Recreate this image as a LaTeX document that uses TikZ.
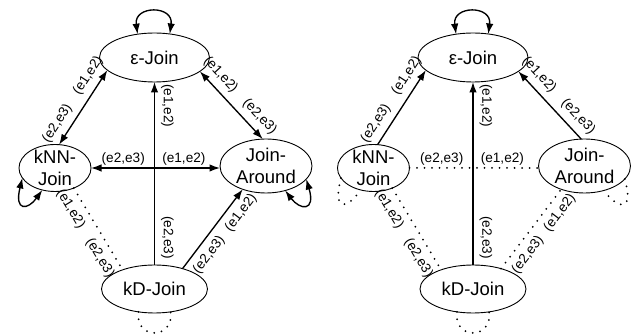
\documentclass[tikz,border=0pt]{standalone}
\usepackage{fontspec}
\setmainfont{Liberation Sans}
\usetikzlibrary{arrows.meta,shapes.geometric}
\begin{document}
\begin{tikzpicture}[x=1pt,y=-1pt,
  st/.style={draw, ellipse, inner sep=0pt, outer sep=0pt, line width=0.9pt},
  nt/.style={font=\fontsize{18.5}{21.5}\selectfont, align=center, inner sep=0pt},
  lbl/.style={font=\fontsize{13.6}{13.6}\selectfont, inner sep=6pt},
  hl/.style={font=\fontsize{13.6}{13.6}\selectfont, inner sep=1.8pt},
  arr/.style={line width=1.35pt},
  tipe/.style={-{Latex[length=10.5pt,width=7.5pt]}},
  tips/.style={{Latex[length=10.5pt,width=7.5pt]}-{Latex[length=10.5pt,width=7.5pt]}},
  tipb/.style={{Latex[length=10.5pt,width=7.5pt]}-},
  dots/.style={line width=2pt, line cap=round, dash pattern=on 0pt off 7.5pt},
]
\useasboundingbox (0,0) rectangle (638,336);

% ---------------- left panel ----------------
\node[st, minimum width=110pt, minimum height=49pt, label={[nt]center:ε-Join}] (eL) at (154.5,57.5) {};
\node[st, minimum width=72pt, minimum height=47pt, label={[nt]center:kNN-\\Join}] (kL) at (55,168) {};
\node[st, minimum width=92pt, minimum height=54pt, label={[nt]center:Join-\\Around}] (jL) at (266,166) {};
\node[st, minimum width=106pt, minimum height=48pt, label={[nt]center:kD-Join}] (dL) at (154.5,289) {};

\draw[arr, tips] (kL.80) -- (eL.195)
  node[lbl, sloped, above, pos=.19] {(e2,e3)}
  node[lbl, sloped, above, pos=.83] {(e1,e2)};
\draw[arr, tips] (eL.-17) -- (jL.97)
  node[lbl, sloped, above, pos=.18] {(e1,e2)}
  node[lbl, sloped, above, pos=.8] {(e2,e3)};
\draw[arr, tipe] (dL.north) -- (eL.south)
  node[lbl, rotate=-90, anchor=south, pos=.87] {(e1,e2)}
  node[lbl, rotate=-90, anchor=south, pos=.15] {(e2,e3)};
\draw[arr, tips] (kL.east) -- (kL.east -| jL.west)
  node[hl, above, pos=.25] {(e2,e3)}
  node[hl, above, pos=.72] {(e1,e2)};
\draw[arr, tipe] (dL.36) -- (jL.225)
  node[lbl, sloped, below, pos=.27] {(e2,e3)}
  node[lbl, sloped, below, pos=.8] {(e1,e2)};
\draw[dots] (kL.-47) -- (dL.149)
  node[lbl, sloped, below, pos=.17] {(e1,e2)}
  node[lbl, sloped, below, pos=.77] {(e2,e3)};

\draw[arr, tips] (eL.126) .. controls +(-4,-29) and +(4,-29) .. (eL.57);
\draw[arr, tips] (kL.197) .. controls +(-8.4,34) and +(-14.3,20) .. (kL.240);
\draw[arr, tips] (jL.-18) .. controls +(9.7,33) and +(14.8,19.5) .. (jL.-52);
\draw[dots] (dL.235) .. controls +(-4,28) and +(4,28) .. (dL.305);

% ---------------- right panel ----------------
\node[st, minimum width=110pt, minimum height=49pt, label={[nt]center:ε-Join}] (eR) at (473,57.5) {};
\node[st, minimum width=72pt, minimum height=47pt, label={[nt]center:kNN-\\Join}] (kR) at (373.5,168) {};
\node[st, minimum width=92pt, minimum height=54pt, label={[nt]center:Join-\\Around}] (jR) at (584.5,166) {};
\node[st, minimum width=106pt, minimum height=48pt, label={[nt]center:kD-Join}] (dR) at (473,289) {};

\draw[arr, tipe] (kR.80) -- (eR.195)
  node[lbl, sloped, above, pos=.19] {(e2,e3)}
  node[lbl, sloped, above, pos=.83] {(e1,e2)};
\draw[arr, tipb] (eR.-17) -- (jR.97)
  node[lbl, sloped, above, pos=.18] {(e1,e2)}
  node[lbl, sloped, above, pos=.8] {(e2,e3)};
\draw[arr, tipe] (dR.north) -- (eR.south)
  node[lbl, rotate=-90, anchor=south, pos=.87] {(e1,e2)}
  node[lbl, rotate=-90, anchor=south, pos=.15] {(e2,e3)};
\draw[dots] (kR.east) -- (kR.east -| jR.west)
  node[hl, above, pos=.25] {(e2,e3)}
  node[hl, above, pos=.72] {(e1,e2)};
\draw[dots] (dR.36) -- (jR.225)
  node[lbl, sloped, below, pos=.27] {(e2,e3)}
  node[lbl, sloped, below, pos=.8] {(e1,e2)};
\draw[dots] (kR.-47) -- (dR.149)
  node[lbl, sloped, below, pos=.17] {(e1,e2)}
  node[lbl, sloped, below, pos=.77] {(e2,e3)};

\draw[arr, tips] (eR.126) .. controls +(-4,-29) and +(4,-29) .. (eR.57);
\draw[dots] (kR.197) .. controls +(-8.4,34) and +(-14.3,20) .. (kR.240);
\draw[dots] (jR.-18) .. controls +(9.7,33) and +(14.8,19.5) .. (jR.-52);
\draw[dots] (dR.235) .. controls +(-4,28) and +(4,28) .. (dR.305);
\end{tikzpicture}
\end{document}
